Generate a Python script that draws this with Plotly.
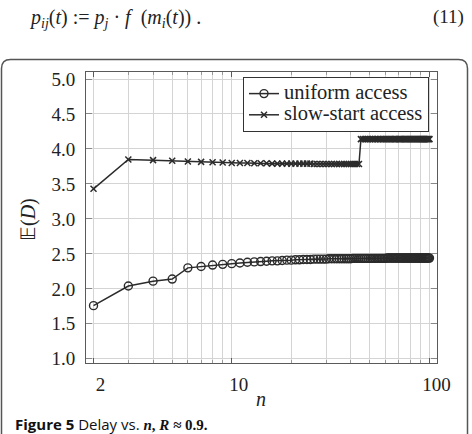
import plotly.graph_objects as go

# ---------------- data ----------------
n_values = [
    2, 3, 4, 5, 6, 7, 8, 9, 10,
    11, 12, 13, 14, 15, 16, 17, 18, 19, 20,
    21, 22, 23, 24, 25, 26, 27, 28, 29, 30,
    31, 32, 33, 34, 35, 36, 37, 38, 39, 40,
    41, 42, 43, 44, 45, 46, 47, 48, 49, 50,
    51, 52, 53, 54, 55, 56, 57, 58, 59, 60,
    61, 62, 63, 64, 65, 66, 67, 68, 69, 70,
    71, 72, 73, 74, 75, 76, 77, 78, 79, 80,
    81, 82, 83, 84, 85, 86, 87, 88, 89, 90,
    91, 92, 93, 94, 95, 96, 97, 98, 99, 100,
]

uniform_access = [
    1.76, 2.04, 2.11, 2.14, 2.30, 2.32, 2.34, 2.35, 2.36,
    2.37, 2.38, 2.385, 2.39, 2.395, 2.40, 2.40, 2.405, 2.41, 2.41,
    2.415, 2.415, 2.42, 2.42, 2.42, 2.425, 2.425, 2.425, 2.425, 2.425,
    2.43, 2.43, 2.43, 2.43, 2.43, 2.43, 2.43, 2.43, 2.43, 2.43,
    2.435, 2.435, 2.435, 2.435, 2.435, 2.435, 2.435, 2.435, 2.435, 2.435,
    2.435, 2.435, 2.435, 2.435, 2.435, 2.435, 2.435, 2.435, 2.435, 2.435,
    2.44, 2.44, 2.44, 2.44, 2.44, 2.44, 2.44, 2.44, 2.44, 2.44,
    2.44, 2.44, 2.44, 2.44, 2.44, 2.44, 2.44, 2.44, 2.44, 2.44,
    2.44, 2.44, 2.44, 2.44, 2.44, 2.44, 2.44, 2.44, 2.44, 2.44,
    2.44, 2.44, 2.44, 2.44, 2.44, 2.44, 2.44, 2.44, 2.44, 2.44,
]

slow_start_access = [
    3.43, 3.85, 3.84, 3.83, 3.82, 3.815, 3.81, 3.805, 3.80,
    3.80, 3.80, 3.795, 3.795, 3.795, 3.79, 3.79, 3.79, 3.79, 3.79,
    3.79, 3.79, 3.79, 3.79, 3.79, 3.785, 3.785, 3.785, 3.785, 3.785,
    3.785, 3.785, 3.785, 3.785, 3.785, 3.785, 3.785, 3.785, 3.785, 3.785,
    3.785, 3.785, 3.785, 3.785, 4.14, 4.14, 4.14, 4.14, 4.14, 4.14,
    4.14, 4.14, 4.14, 4.14, 4.14, 4.14, 4.14, 4.14, 4.14, 4.14,
    4.14, 4.14, 4.14, 4.14, 4.14, 4.14, 4.14, 4.14, 4.14, 4.14,
    4.14, 4.14, 4.14, 4.14, 4.14, 4.14, 4.14, 4.14, 4.14, 4.14,
    4.14, 4.14, 4.14, 4.14, 4.14, 4.14, 4.14, 4.14, 4.14, 4.14,
    4.14, 4.14, 4.14, 4.14, 4.14, 4.14, 4.14, 4.14, 4.14, 4.14,
]

x_major_ticks = [2, 10, 100]
x_major_labels = ["2", "10", "100"]
x_minor_ticks = [3, 4, 5, 6, 7, 8, 9, 20, 30, 40, 50, 60, 70, 80, 90]
y_tick_values = [1.0, 1.5, 2.0, 2.5, 3.0, 3.5, 4.0, 4.5, 5.0]

# ---------------- layout constants ----------------
W, H = 472, 434
L, R, T, B = 86, 437, 72, 363   # plot-area pixel box
PW, PH = R - L, B - T


def px(x):
    return (x - L) / PW


def py(y):
    return (B - y) / PH


INK = "#2b2b2b"
GRID = "#d4d4d4"
AXIS = "#5a5a5a"
SERIF = "Liberation Serif, Times New Roman, serif"


def big(s):
    return f"<span style='font-size:20.5px'>{s}</span>"


fig = go.Figure()
fig.add_trace(go.Scatter(
    x=n_values, y=uniform_access, mode="lines+markers", name=big("uniform access"),
    line=dict(color=INK, width=1.5),
    marker=dict(symbol="circle-open", size=8, color=INK, line=dict(width=1.4, color=INK)),
))
fig.add_trace(go.Scatter(
    x=n_values, y=slow_start_access, mode="lines+markers", name=big("slow-start access"),
    line=dict(color=INK, width=1.5),
    marker=dict(symbol="x-thin", size=6, color=INK, line=dict(width=1.5, color=INK)),
))

fig.update_xaxes(
    type="log", range=[0.263, 2.038],
    tickmode="array", tickvals=x_major_ticks, ticktext=x_major_labels,
    showgrid=True, gridcolor=GRID, gridwidth=1,
    showline=True, linecolor=AXIS, linewidth=1, mirror="ticks",
    ticks="inside", ticklen=5, tickcolor=AXIS,
    minor=dict(tickmode="array", tickvals=x_minor_ticks, showgrid=True,
               gridcolor=GRID, gridwidth=1, ticks="inside", ticklen=3, tickcolor="#999"),
    tickfont=dict(family=SERIF, size=19, color="#222"),
    ticklabelshift=7, ticklabelstandoff=4,
    zeroline=False,
)
fig.update_yaxes(
    range=[0.94, 5.1],
    tickmode="array", tickvals=y_tick_values,
    ticktext=[f"{v:.1f}" for v in y_tick_values],
    showgrid=True, gridcolor=GRID, gridwidth=1,
    showline=True, linecolor=AXIS, linewidth=1, mirror="ticks",
    ticks="inside", ticklen=6, tickcolor="#888",
    tickfont=dict(family=SERIF, size=19, color="#222"),
    ticklabelstandoff=6,
    zeroline=False,
)

# rounded frame around the figure panel (bottom runs off the page)
fx0, fx1 = px(1.5), px(467.5)
fy_top, fy_bot = py(59.5), py(445)
rx, ry = 9 / PW, 9 / PH
frame_path = (
    f"M {fx0},{fy_bot} L {fx0},{fy_top - ry} Q {fx0},{fy_top} {fx0 + rx},{fy_top} "
    f"L {fx1 - rx},{fy_top} Q {fx1},{fy_top} {fx1},{fy_top - ry} L {fx1},{fy_bot}"
)

fig.update_layout(
    width=W, height=H,
    margin=dict(l=L, r=W - R, t=T, b=H - B, pad=0),
    paper_bgcolor="white", plot_bgcolor="white",
    showlegend=True,
    legend=dict(
        x=px(429), y=py(77), xanchor="right", yanchor="top",
        bgcolor="white", bordercolor="#333", borderwidth=1,
        font=dict(family=SERIF, size=14, color="#222"),
        itemwidth=30, tracegroupgap=0,
    ),
    shapes=[dict(type="path", xref="paper", yref="paper", path=frame_path,
                 line=dict(color="#555", width=1.5), layer="above")],
    annotations=[
        # equation above the figure
        dict(xref="paper", yref="paper", x=px(27), y=py(18), xanchor="left", yanchor="middle",
             showarrow=False,
             text=("<i>p<sub>ij</sub></i>(<i>t</i>)&nbsp;:=&nbsp;<i>p<sub>j</sub></i>&nbsp;·&nbsp;"
                   "<i>f</i>&nbsp;&nbsp;(<i>m<sub>i</sub></i>(<i>t</i>))&nbsp;."),
             font=dict(family=SERIF, size=20, color="#222")),
        dict(xref="paper", yref="paper", x=px(466), y=py(17), xanchor="right", yanchor="middle",
             showarrow=False, text="(11)",
             font=dict(family=SERIF, size=19, color="#222")),
        # axis titles
        dict(xref="paper", yref="paper", x=px(261), y=py(399), xanchor="center", yanchor="middle",
             showarrow=False, text="<i>n</i>",
             font=dict(family=SERIF, size=20, color="#222")),
        dict(xref="paper", yref="paper", x=px(28), y=py(220), xanchor="center", yanchor="middle",
             showarrow=False, text="𝔼(<i>D</i>)", textangle=-90,
             font=dict(family=SERIF, size=20, color="#222")),
        # caption
        dict(xref="paper", yref="paper", x=px(13), y=py(424), xanchor="left", yanchor="middle",
             showarrow=False,
             text=("<b>Figure 5</b> Delay vs. "
                   "<span style='font-family:Liberation Serif'><b><i>n</i>, <i>R</i> ≈ 0.9.</b></span>"),
             font=dict(family="Open Sans, Noto Sans, sans-serif", size=15, color="#111")),
    ],
)

fig.write_html("out.html")
